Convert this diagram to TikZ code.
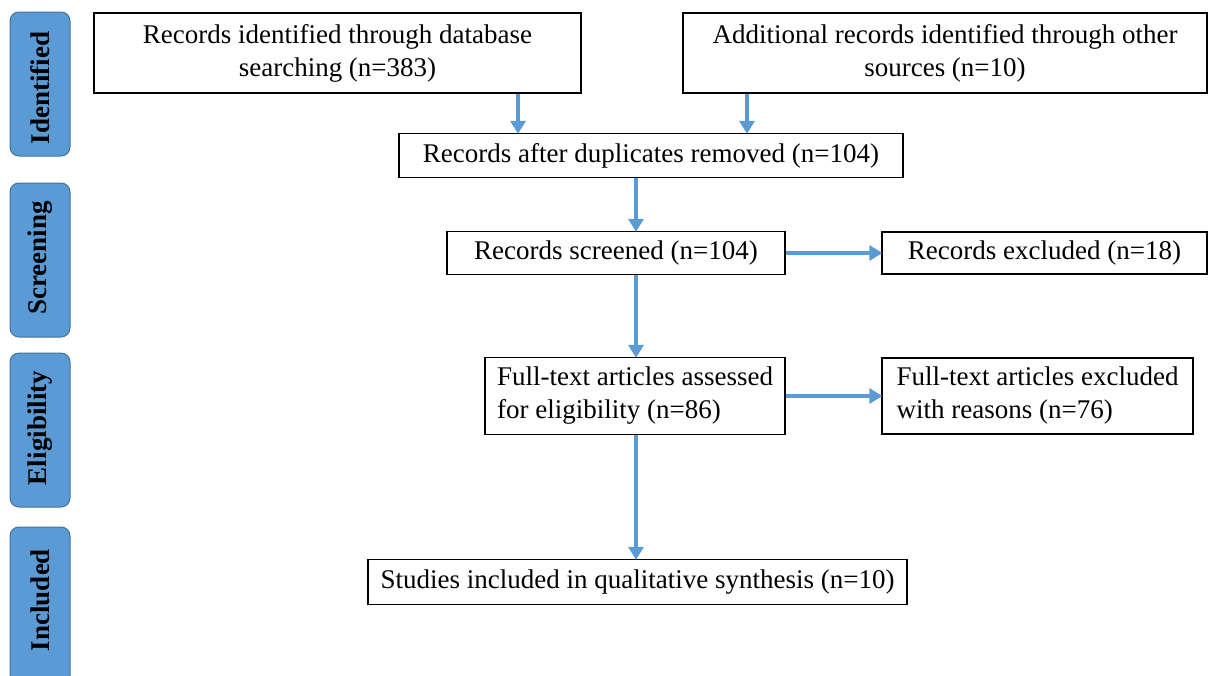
\documentclass[tikz,border=0pt]{standalone}
\usepackage{fontspec}
\setmainfont{Liberation Serif}
\usetikzlibrary{arrows.meta}
\definecolor{stageblue}{HTML}{5B9BD5}
\definecolor{stageedge}{HTML}{41719C}
\tikzset{
  flowbox/.style={draw=black, line width=1.3pt, fill=white, inner sep=0pt,
    font=\fontsize{27}{33}\selectfont, align=center},
  stagebox/.style={draw=stageedge, line width=1pt, fill=stageblue, rounded corners=9pt},
  stagetext/.style={rotate=90, font=\fontsize{27}{30}\selectfont\bfseries},
  flowarrow/.style={draw=stageblue, line width=4pt,
    -{Triangle[width=15pt,length=13pt]}, shorten >=-1pt}
}
\begin{document}
\begin{tikzpicture}[x=1pt,y=-1pt]
\useasboundingbox (0,0) rectangle (1208,675);
\clip (0,0) rectangle (1208,675);

% stage bars on the left
\draw[stagebox] (10,12) rectangle (70,156);
\draw[stagebox] (10,183) rectangle (70,337);
\draw[stagebox] (10,353) rectangle (70,507);
\draw[stagebox] (10,527) rectangle (70,700);
\node[stagetext] (sIdent) at (40,88) {Identified};
\node[stagetext] (sScreen) at (40,258) {Screening};
\node[stagetext] (sElig) at (40,428) {Eligibility};
\node[stagetext] (sIncl) at (40,600) {Included};

% flow boxes
\node[flowbox, minimum width=487pt, minimum height=80pt] (db) at (337.5,53)
  {Records identified through database\\searching (n=383)};
\node[flowbox, minimum width=524pt, minimum height=80pt] (other) at (945,53)
  {Additional records identified through other\\sources (n=10)};
\node[flowbox, minimum width=504pt, minimum height=44pt] (dup) at (651,155.5)
  {Records after duplicates removed (n=104)};
\node[flowbox, minimum width=338pt, minimum height=43pt] (screen) at (616,253)
  {Records screened (n=104)};
\node[flowbox, minimum width=325pt, minimum height=42pt] (excl) at (1044.5,253)
  {Records excluded (n=18)};
\node[flowbox, minimum width=300pt, minimum height=77pt, align=left] (full) at (635,396)
  {Full-text articles assessed\\for eligibility (n=86)};
\node[flowbox, minimum width=311pt, minimum height=76pt, align=left] (fexcl) at (1037.5,396)
  {Full-text articles excluded\\with reasons (n=76)};
\node[flowbox, minimum width=539pt, minimum height=45pt] (incl) at (637.5,582)
  {Studies included in qualitative synthesis (n=10)};

% connector columns
\coordinate (colA) at (518,0);
\coordinate (colB) at (747,0);
\coordinate (colC) at (636,0);

\draw[flowarrow] (db.south -| colA) -- (dup.north -| colA);
\draw[flowarrow] (other.south -| colB) -- (dup.north -| colB);
\draw[flowarrow] (dup.south -| colC) -- (screen.north -| colC);
\draw[flowarrow] (screen.south -| colC) -- (full.north -| colC);
\draw[flowarrow] (full.south -| colC) -- (incl.north -| colC);
\draw[flowarrow] (screen.east) -- (excl.west);
\draw[flowarrow] (full.east) -- (fexcl.west);
\end{tikzpicture}
\end{document}
